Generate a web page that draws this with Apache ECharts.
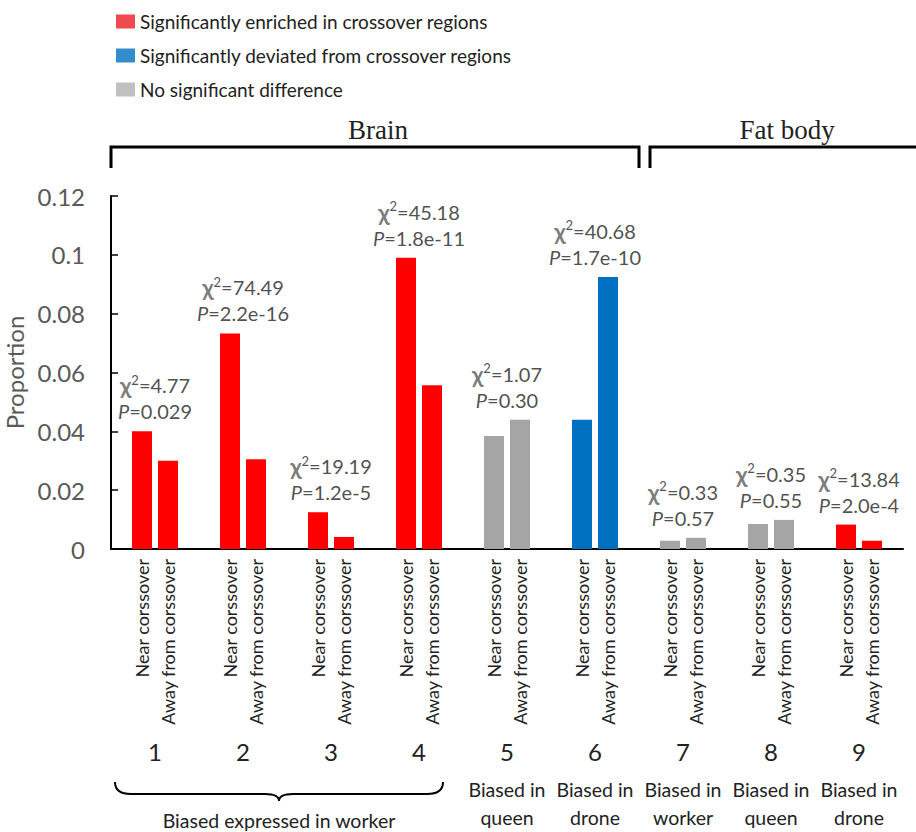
<!DOCTYPE html>
<html>
<head>
<meta charset="utf-8">
<script src="https://cdn.jsdelivr.net/npm/echarts@6/dist/echarts.min.js"></script>
<style>
  html, body { margin: 0; padding: 0; background: #fff; }
  #chart { width: 916px; height: 832px; }
</style>
</head>
<body>
<div id="chart"></div>
<script>
// ---- data ----
const groups = ['1', '2', '3', '4', '5', '6', '7', '8', '9'];
const nearValues = [0.0400, 0.0733, 0.0125, 0.0990, 0.0384, 0.0439, 0.0028, 0.0085, 0.0083];
const awayValues = [0.0300, 0.0305, 0.0041, 0.0557, 0.0439, 0.0925, 0.0038, 0.0099, 0.0028];
const significance = ['enriched', 'enriched', 'enriched', 'enriched', 'none', 'deviated', 'none', 'none', 'enriched'];
const chiSquare = ['4.77', '74.49', '19.19', '45.18', '1.07', '40.68', '0.33', '0.35', '13.84'];
const pValues = ['0.029', '2.2e-16', '1.2e-5', '1.8e-11', '0.30', '1.7e-10', '0.57', '0.55', '2.0e-4'];
const barNames = ['Near corssover', 'Away from corssover'];
const groupDescriptions = ['', '', '', '', 'Biased in\nqueen', 'Biased in\ndrone', 'Biased in\nworker', 'Biased in\nqueen', 'Biased in\ndrone'];
const workerGroupLabel = 'Biased expressed in worker';
const workerGroupRange = [0, 3];
const tissueNames = ['Brain', 'Fat body'];
const tissueRanges = [[0, 5], [6, 8]];
const legendNames = ['Significantly enriched in crossover regions', 'Significantly deviated from crossover regions', 'No significant difference'];
const legendKeys = ['enriched', 'deviated', 'none'];
const yMin = 0, yMax = 0.12, yInterval = 0.02;

// ---- styles ----
const barColors = { enriched: '#FF0000', deviated: '#0070C0', none: '#A5A5A5' };
const legendColors = { enriched: '#ED1C24', deviated: '#0070C0', none: '#B0B0B0' };
const FONT = 'Lato, "Open Sans", sans-serif';

const chart = echarts.init(document.getElementById('chart'), null, { renderer: 'svg' });

function barData(values) {
  return values.map((v, i) => ({ value: v, itemStyle: { color: barColors[significance[i]] } }));
}
function barLabel(text) {
  return {
    show: true, position: 'bottom', distance: 10, rotate: 90,
    align: 'right', verticalAlign: 'middle',
    formatter: text, fontSize: 18, color: '#222', fontFamily: FONT
  };
}

const option = {
  animation: false,
  textStyle: { fontFamily: FONT },
  grid: { left: 111, right: 13, top: 196, bottom: 283, containLabel: false, outerBoundsMode: 'none' },
  legend: {
    data: legendNames, orient: 'vertical', left: 111, top: 6,
    icon: 'rect', itemWidth: 19, itemHeight: 14, itemGap: 13,
    textStyle: { fontSize: 19, color: '#222', fontFamily: FONT, lineHeight: 21 },
    selectedMode: false
  },
  xAxis: [{
    type: 'category', data: groups,
    axisLine: { lineStyle: { color: '#000', width: 2 } },
    axisTick: { inside: true, length: 8, lineStyle: { color: '#000', width: 1.5 } },
    axisLabel: { margin: 190, fontSize: 24, color: '#222', interval: 0 }
  }, {
    type: 'category', data: groups, position: 'bottom',
    axisLine: { show: false }, axisTick: { show: false },
    axisLabel: {
      interval: 0, margin: 226, fontSize: 19.5, lineHeight: 28, color: '#222',
      formatter: (v, i) => groupDescriptions[i]
    }
  }],
  yAxis: {
    type: 'value', min: yMin, max: yMax, interval: yInterval,
    name: 'Proportion', nameLocation: 'middle', nameGap: 77,
    nameTextStyle: { fontSize: 24, color: '#595959' },
    axisLine: { show: true, lineStyle: { color: '#000', width: 2 } },
    axisTick: { show: true, inside: true, length: 7, lineStyle: { color: '#000', width: 1.5 } },
    axisLabel: { margin: 26, fontSize: 24, color: '#595959' },
    splitLine: { show: false }
  },
  series: [
    {
      name: barNames[0], type: 'bar', data: barData(nearValues),
      barWidth: 20, barGap: '30%', label: barLabel(barNames[0])
    },
    {
      name: barNames[1], type: 'bar', data: barData(awayValues),
      barWidth: 20, barGap: '30%', label: barLabel(barNames[1])
    },
    {
      name: 'stats', type: 'scatter', symbolSize: 0, silent: true,
      data: groups.map((g, i) => [i, Math.max(nearValues[i], awayValues[i])]),
      label: {
        show: true, position: 'top', distance: 7,
        formatter: (p) => '{chi|χ}{sup|2}{t|=' + chiSquare[p.dataIndex] + '}\n{p|P}{t|=' + pValues[p.dataIndex] + '}',
        rich: {
          chi: { fontSize: 23, color: '#595959', fontWeight: 'bold', lineHeight: 26, fontFamily: FONT },
          sup: { fontSize: 13, color: '#222', lineHeight: 26, padding: [0, 0, 11, 0], fontFamily: FONT },
          t: { fontSize: 20, color: '#222', lineHeight: 26, fontFamily: FONT },
          p: { fontSize: 20, color: '#222', fontStyle: 'italic', lineHeight: 26, fontFamily: FONT }
        }
      }
    },
    ...legendKeys.map((k, i) => ({
      name: legendNames[i], type: 'scatter', data: [], itemStyle: { color: legendColors[k] }
    }))
  ]
};
chart.setOption(option);

// ---- decorations positioned through the category scale ----
const cx = (i) => chart.convertToPixel({ xAxisIndex: 0 }, i);
const band = cx(1) - cx(0);
const leftBound = (i) => cx(i) - band / 2;
const rightBound = (i) => cx(i) + band / 2;

const graphics = [];
// tissue brackets
const bTop = 147, bLeg = 168;
const brainL = leftBound(tissueRanges[0][0]);
const brainR = rightBound(tissueRanges[0][1]);
const fatL = rightBound(tissueRanges[0][1]) + 11;
const fatR = 930;
[[brainL, brainR, tissueNames[0]], [fatL, fatR, tissueNames[1]]].forEach(([a, b, name], k) => {
  graphics.push({
    type: 'polyline', shape: { points: [[a, bLeg], [a, bTop], [b, bTop], [b, bLeg]] },
    style: { stroke: '#000', lineWidth: 3, fill: null }
  });
  const textCenter = k === 1 ? (a + 916) / 2 + 4 : (a + b) / 2 + 3;
  graphics.push({
    type: 'text', x: textCenter, y: 130,
    style: { text: name, fontSize: 27, fontFamily: '"Liberation Serif", "DejaVu Serif", serif', fill: '#222', align: 'center', verticalAlign: 'middle' }
  });
});
// brace for worker groups
const x0 = leftBound(workerGroupRange[0]) + 4;
const x1 = rightBound(workerGroupRange[1]) - 20;
const xm = (x0 + x1) / 2;
const yt = 782, ymid = 794, ytip = 801;
const braceStyle = { stroke: '#000', lineWidth: 2, fill: null };
graphics.push(
  { type: 'bezierCurve', shape: { x1: x0, y1: yt, cpx1: x0, cpy1: ymid, x2: x0 + 16, y2: ymid }, style: braceStyle },
  { type: 'line', shape: { x1: x0 + 16, y1: ymid, x2: xm - 14, y2: ymid }, style: braceStyle },
  { type: 'bezierCurve', shape: { x1: xm - 14, y1: ymid, cpx1: xm, cpy1: ymid, x2: xm, y2: ytip }, style: braceStyle },
  { type: 'bezierCurve', shape: { x1: xm, y1: ytip, cpx1: xm, cpy1: ymid, x2: xm + 14, y2: ymid }, style: braceStyle },
  { type: 'line', shape: { x1: xm + 14, y1: ymid, x2: x1 - 16, y2: ymid }, style: braceStyle },
  { type: 'bezierCurve', shape: { x1: x1 - 16, y1: ymid, cpx1: x1, cpy1: ymid, x2: x1, y2: yt }, style: braceStyle }
);
graphics.push({
  type: 'text', x: xm, y: 820,
  style: { text: workerGroupLabel, fontSize: 19.5, fontFamily: FONT, fill: '#222', align: 'center', verticalAlign: 'middle' }
});
chart.setOption({ graphic: graphics });
</script>
</body>
</html>
